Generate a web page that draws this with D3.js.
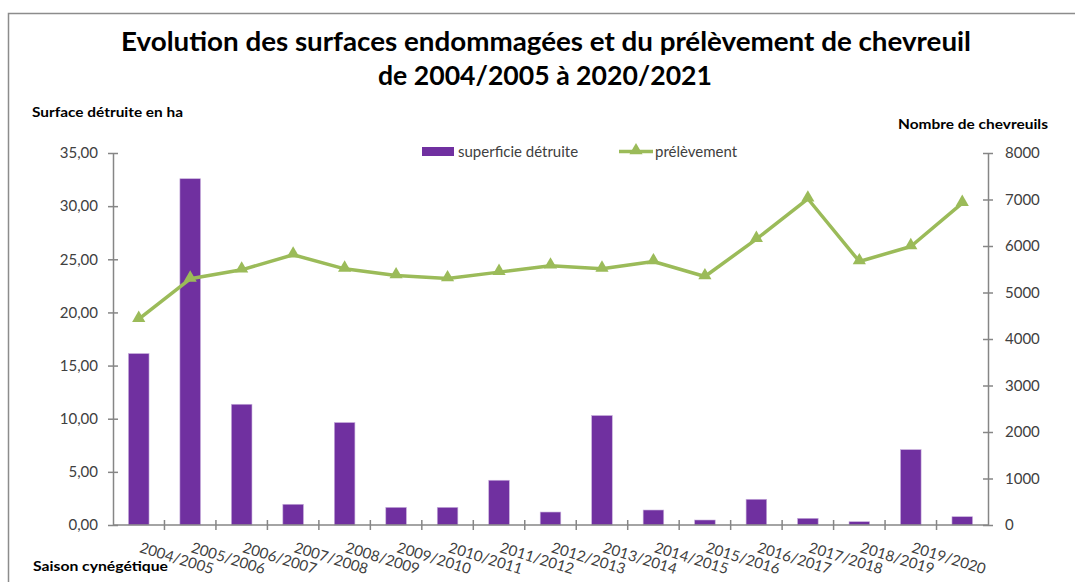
<!DOCTYPE html>
<html>
<head>
<meta charset="utf-8">
<script src="https://cdn.jsdelivr.net/npm/d3@7"></script>
<style>
  body { margin: 0; background: #fff; }
  svg text { font-family: Lato, "Open Sans", sans-serif; fill: #404040; }
  .title { font-weight: bold; fill: #000; font-size: 27px; }
  .axis-title { font-weight: bold; fill: #000; font-size: 14px; }
</style>
</head>
<body>
<div class="chart"></div>
<script>
// seasons (17), the last one has no label drawn in the original
const seasons = ["2004/2005", "2005/2006", "2006/2007", "2007/2008", "2008/2009", "2009/2010",
    "2010/2011", "2011/2012", "2012/2013", "2013/2014", "2014/2015", "2015/2016",
    "2016/2017", "2017/2018", "2018/2019", "2019/2020", "2020/2021"];
const shownLabels = seasons.slice(0, 16);

// surface détruite (ha)
const superficie = [16.13, 32.58, 11.36, 1.95, 9.64, 1.66, 1.66, 4.21, 1.22, 10.3,
    1.41, 0.47, 2.42, 0.63, 0.31, 7.09, 0.78];

// prélèvement (nombre de chevreuils)
const prelevement = [4426, 5294, 5488, 5811, 5509, 5366, 5301, 5438, 5574, 5509,
    5667, 5344, 6148, 7016, 5667, 5990, 6923];

const leftTicks = [0, 5, 10, 15, 20, 25, 30, 35];
const rightTicks = [0, 1000, 2000, 3000, 4000, 5000, 6000, 7000, 8000];

const width = 1075, height = 582;
const purple = "#7030A0", green = "#9BBB59", axisGrey = "#868686";

const svg = d3.select(".chart").append("svg")
    .attr("width", width)
    .attr("height", height);

// outer frame
svg.append("rect")
    .attr("x", 8.5).attr("y", 13.5)
    .attr("width", 1100).attr("height", 600)
    .attr("fill", "none")
    .attr("stroke", "#8c8c8c")
    .attr("stroke-width", 1.5);

const x = d3.scaleBand()
    .domain(seasons)
    .range([113, 988])
    .paddingInner(0.6)
    .paddingOuter(0.3);

const yL = d3.scaleLinear().domain([0, 35]).range([525, 153]);
const yR = d3.scaleLinear().domain([0, 8000]).range([525, 153]);

// title
const title = svg.append("g");
title.append("text").classed("title", true)
    .attr("x", 546).attr("y", 51)
    .attr("text-anchor", "middle")
    .attr("textLength", 850).attr("lengthAdjust", "spacingAndGlyphs")
    .text("Evolution des surfaces endommagées et du prélèvement de chevreuil");
title.append("text").classed("title", true)
    .attr("x", 545).attr("y", 85)
    .attr("text-anchor", "middle")
    .attr("textLength", 334).attr("lengthAdjust", "spacingAndGlyphs")
    .text("de 2004/2005 à 2020/2021");

// axis titles
svg.append("text").classed("axis-title", true)
    .attr("x", 32).attr("y", 117)
    .attr("textLength", 151).attr("lengthAdjust", "spacingAndGlyphs")
    .text("Surface détruite en ha");
svg.append("text").classed("axis-title", true)
    .attr("x", 898).attr("y", 129)
    .attr("textLength", 150).attr("lengthAdjust", "spacingAndGlyphs")
    .text("Nombre de chevreuils");
svg.append("text").classed("axis-title", true)
    .attr("x", 33).attr("y", 571)
    .attr("textLength", 135).attr("lengthAdjust", "spacingAndGlyphs")
    .text("Saison cynégétique");

// bars
svg.append("g").selectAll("rect")
    .data(superficie)
    .enter()
    .append("rect")
    .attr("x", (d, i) => x(seasons[i]))
    .attr("width", x.bandwidth())
    .attr("y", d => yL(d))
    .attr("height", d => yL(0) - yL(d))
    .attr("fill", purple)
    .attr("stroke", "#c8b0dc")
    .attr("stroke-width", 0.6);

// left axis
const leftAxis = d3.axisLeft(yL)
    .tickValues(leftTicks)
    .tickFormat(d => d3.format(".2f")(d).replace(".", ","))
    .tickSizeInner(5)
    .tickSizeOuter(0)
    .tickPadding(10);

const leftG = svg.append("g").attr("transform", "translate(113,0)").call(leftAxis);
leftG.selectAll(".tick line").attr("x1", -5).attr("x2", 5);

// right axis
const rightAxis = d3.axisRight(yR)
    .tickValues(rightTicks)
    .tickFormat(d3.format("d"))
    .tickSizeInner(5)
    .tickSizeOuter(0)
    .tickPadding(12);

const rightG = svg.append("g").attr("transform", "translate(988,0)").call(rightAxis);
rightG.selectAll(".tick line").attr("x1", -5).attr("x2", 5);

// x axis: line plus boundary ticks
const step = x.step();
const boundaries = d3.range(seasons.length + 1).map(i => x(seasons[0]) - step * 0.3 + i * step);

const xG = svg.append("g");
xG.append("line")
    .attr("x1", 113).attr("x2", 988)
    .attr("y1", 525).attr("y2", 525);
xG.selectAll(".xtick")
    .data(boundaries.slice(1, -1))
    .enter()
    .append("line")
    .attr("x1", d => d).attr("x2", d => d)
    .attr("y1", 520).attr("y2", 530);

xG.selectAll("line").attr("stroke", axisGrey).attr("stroke-width", 1.5);
[leftG, rightG].forEach(g => {
    g.select(".domain").attr("stroke", axisGrey).attr("stroke-width", 1.5);
    g.selectAll(".tick line").attr("stroke", axisGrey).attr("stroke-width", 1.5);
    g.selectAll(".tick text")
        .style("font-family", "Lato, sans-serif")
        .style("font-size", "15px")
        .attr("fill", "#404040");
});

// rotated season labels
svg.append("g").selectAll("text")
    .data(shownLabels)
    .enter()
    .append("text")
    .attr("transform", d => "translate(" + (x(d) + x.bandwidth() / 2) + ",552) rotate(17)")
    .style("font-size", "15px")
    .text(d => d);

// line series
const cx = i => x(seasons[i]) + x.bandwidth() / 2;

const line = d3.line()
    .x((d, i) => cx(i))
    .y(d => yR(d));

svg.append("path")
    .datum(prelevement)
    .attr("fill", "none")
    .attr("stroke", green)
    .attr("stroke-width", 3.5)
    .attr("stroke-linejoin", "round")
    .attr("d", line);

const tri = d3.symbol().type(d3.symbolTriangle).size(75);

svg.append("g").selectAll("path")
    .data(prelevement)
    .enter()
    .append("path")
    .attr("d", tri)
    .attr("transform", (d, i) => "translate(" + cx(i) + "," + (yR(d) - 1) + ")")
    .attr("fill", green);

// legend
const legend = svg.append("g");
legend.append("rect")
    .attr("x", 422).attr("y", 147)
    .attr("width", 32).attr("height", 9)
    .attr("fill", purple);
legend.append("text")
    .attr("x", 458).attr("y", 157)
    .style("font-size", "15px")
    .text("superficie détruite");
legend.append("line")
    .attr("x1", 619).attr("x2", 653)
    .attr("y1", 151.5).attr("y2", 151.5)
    .attr("stroke", green)
    .attr("stroke-width", 3.5);
legend.append("path")
    .attr("d", tri)
    .attr("transform", "translate(636,150.5)")
    .attr("fill", green);
legend.append("text")
    .attr("x", 655).attr("y", 157)
    .style("font-size", "15px")
    .text("prélèvement");
</script>
</body>
</html>
